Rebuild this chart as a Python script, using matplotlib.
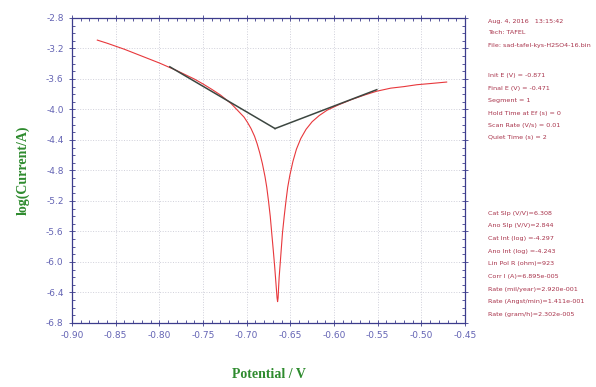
import numpy as np
import matplotlib
matplotlib.use('Agg')
import matplotlib.pyplot as plt
from matplotlib.ticker import MultipleLocator

pot = [-0.871, -0.86, -0.85, -0.84, -0.83, -0.82, -0.81, -0.80, -0.79,
       -0.78, -0.77, -0.76, -0.75, -0.74, -0.73, -0.723, -0.718, -0.713,
       -0.708, -0.703, -0.699, -0.695, -0.691, -0.688, -0.685, -0.682,
       -0.679, -0.677, -0.675, -0.673, -0.6713, -0.6695, -0.668, -0.667,
       -0.666, -0.6652, -0.6646,
       -0.664, -0.6635, -0.6628, -0.6618, -0.6605, -0.659, -0.657, -0.655,
       -0.653, -0.6505, -0.647, -0.643, -0.638, -0.632, -0.625, -0.617,
       -0.608, -0.595, -0.58, -0.565, -0.551, -0.535, -0.52, -0.505,
       -0.49, -0.471]
logi = [-3.09, -3.13, -3.17, -3.21, -3.255, -3.30, -3.345, -3.39, -3.44,
        -3.49, -3.545, -3.60, -3.665, -3.735, -3.81, -3.875, -3.92, -3.98,
        -4.04, -4.10, -4.17, -4.25, -4.35, -4.45, -4.57, -4.71,
        -4.88, -5.02, -5.20, -5.40, -5.62, -5.85, -6.05, -6.20,
        -6.35, -6.47, -6.52,
        -6.47, -6.35, -6.20, -6.05, -5.85, -5.62, -5.40, -5.20,
        -5.02, -4.86, -4.68, -4.52, -4.38, -4.26, -4.16, -4.08,
        -4.01, -3.94, -3.87, -3.81, -3.76, -3.72, -3.70, -3.675,
        -3.66, -3.64]

# Tafel fit lines
cat_x = [-0.788, -0.6675]
cat_y = [-3.44, -4.25]
ano_x = [-0.6675, -0.551]
ano_y = [-4.25, -3.74]

info_top = ["Aug. 4, 2016   13:15:42", "Tech: TAFEL",
            "File: sad-tafel-kys-H2SO4-16.bin"]
info_mid = ["Init E (V) = -0.871", "Final E (V) = -0.471", "Segment = 1",
            "Hold Time at Ef (s) = 0", "Scan Rate (V/s) = 0.01",
            "Quiet Time (s) = 2"]
info_bot = ["Cat Slp (V/V)=6.308", "Ano Slp (V/V)=2.844",
            "Cat Int (log) =-4.297", "Ano Int (log) =-4.243",
            "Lin Pol R (ohm)=923", "Corr I (A)=6.895e-005",
            "Rate (mil/year)=2.920e-001", "Rate (Angst/min)=1.411e-001",
            "Rate (gram/h)=2.302e-005"]

axcol = '#3c3c8c'
tickcol = '#6464b4'
textcol = '#a8324a'

fig = plt.figure(figsize=(5.96, 3.87), dpi=100)
ax = fig.add_axes([0.1208, 0.1654, 0.6594, 0.7881])

ax.plot(pot, logi, '-', color='#e8383c', lw=0.8)
ax.plot(cat_x, cat_y, '-', color='#3c4640', lw=1.1)
ax.plot(ano_x, ano_y, '-', color='#3c4640', lw=1.1)

ax.set_xlim(-0.90, -0.45)
ax.set_ylim(-6.8, -2.8)
ax.xaxis.set_minor_locator(MultipleLocator(0.01))
ax.yaxis.set_minor_locator(MultipleLocator(0.1))
xt = np.arange(-0.90, -0.449, 0.05)
yt = np.arange(-6.8, -2.79, 0.4)
ax.set_xticks(xt)
ax.set_xticklabels(['%.2f' % v for v in xt])
ax.set_yticks(yt)
ax.set_yticklabels(['%.1f' % v for v in yt])

ax.grid(True, which='major', color='#d0d0da', ls=':', lw=0.7)
ax.tick_params(which='both', top=True, right=True, colors=axcol,
               labelcolor=tickcol, labelsize=6.5, width=0.6)
ax.tick_params(which='major', direction='inout', length=5)
ax.tick_params(which='minor', direction='in', length=2.5)
for s in ax.spines.values():
    s.set_color(axcol)
    s.set_linewidth(0.9)

ax.set_xlabel('Potential / V', family='Liberation Serif', weight='bold',
              color='#2e8b2e', fontsize=10, labelpad=20)
ax.set_ylabel('log(Current/A)', family='Liberation Serif', weight='bold',
              color='#2e8b2e', fontsize=10, labelpad=12)

# right-hand info panel
def put_block(lines, y0, dy):
    for i, t in enumerate(lines):
        fig.text(488 / 596, 1 - (y0 + i * dy) / 387, t, color=textcol,
                 fontsize=4.6, va='center', ha='left')

put_block(info_top, 21, 12)
put_block(info_mid, 76, 12.4)
put_block(info_bot, 213, 12.7)

fig.savefig('out.png', dpi=100)
